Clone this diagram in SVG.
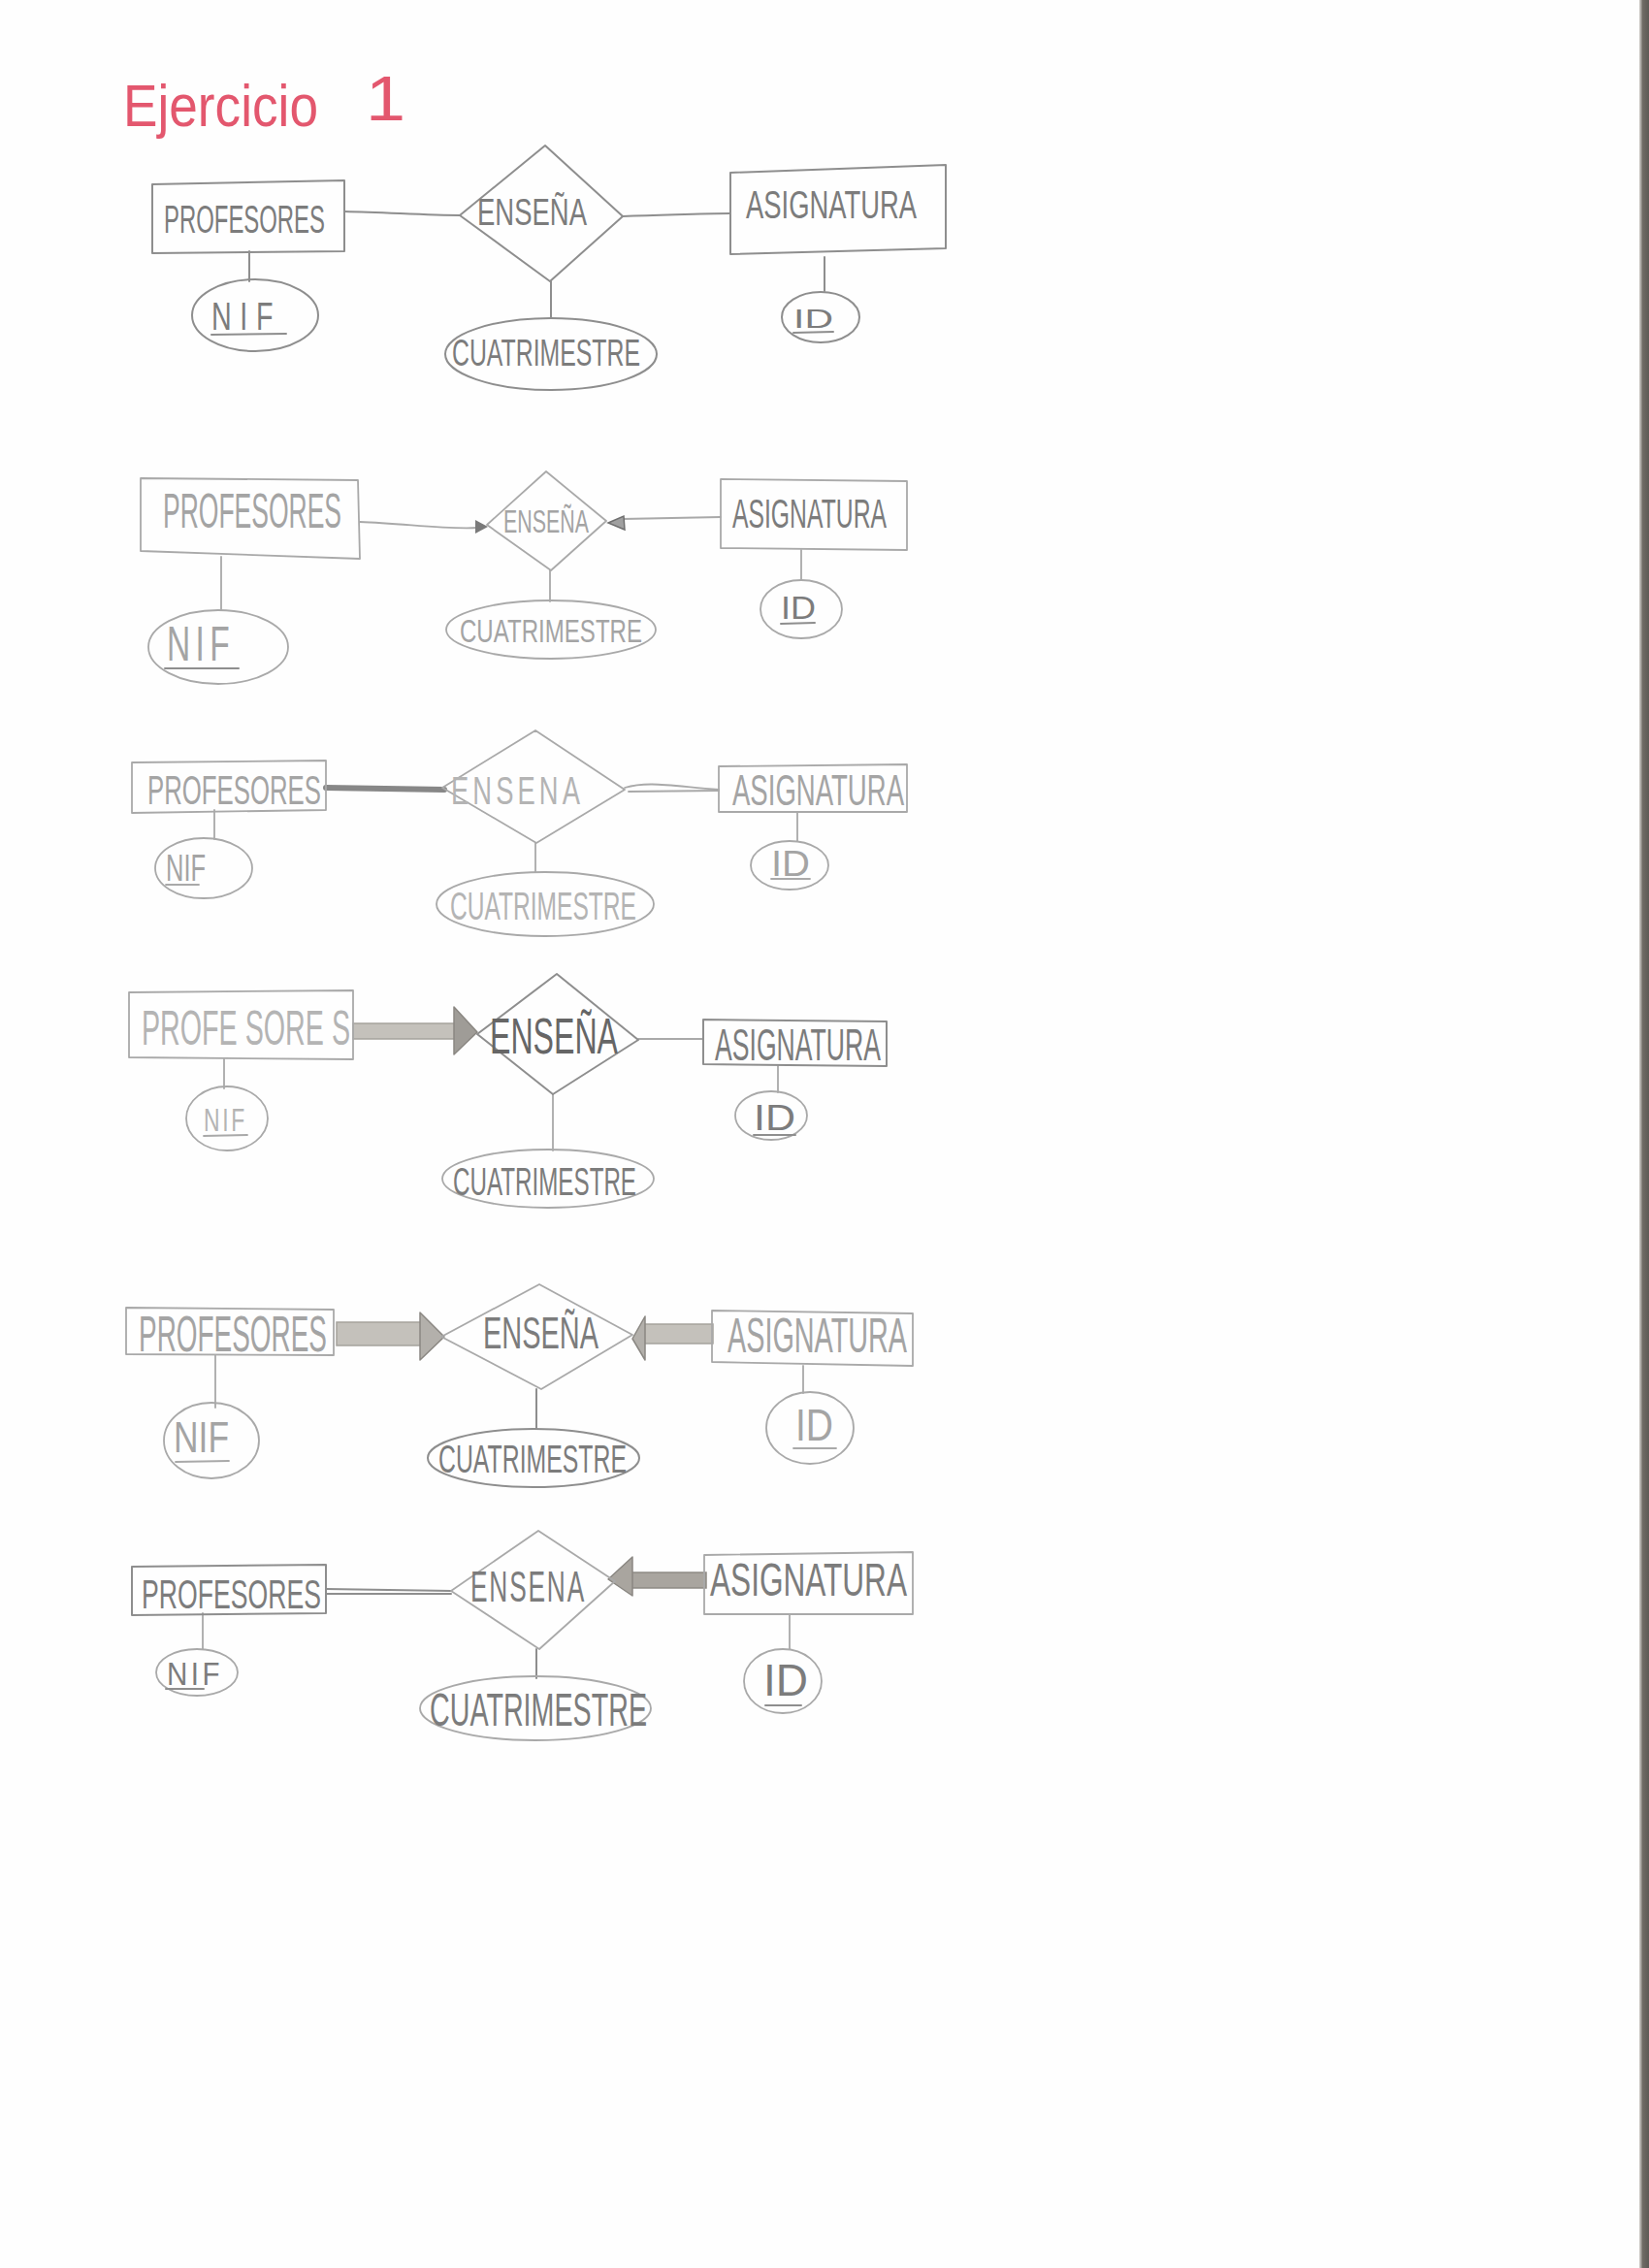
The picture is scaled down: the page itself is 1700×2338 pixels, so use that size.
<svg xmlns="http://www.w3.org/2000/svg" width="1700" height="2338" viewBox="0 0 1700 2338">
  <defs>
    <style>
      .pen{fill:none;stroke:#8e8e8e;stroke-width:2;stroke-linecap:round;stroke-linejoin:round}
      .soft{fill:none;stroke:#a9a9a9;stroke-width:1.8;stroke-linecap:round;stroke-linejoin:round}
      .lbl{font-family:"Liberation Sans",Arial,sans-serif;fill:#7c7c7c}
      .pale{fill:#a4a4a4}
      .faint{fill:#b4b4b4}
      .dark{fill:#666666}
      .title{font-family:"Liberation Sans",Arial,sans-serif;fill:#e3576e}
      .shaft{fill:#c4c1bb;stroke:#a5a29c;stroke-width:1.5}
      .head{fill:#9f9c97;stroke:#8a8782;stroke-width:1.5;stroke-linejoin:round}
    </style>
    <linearGradient id="edge" x1="0" y1="0" x2="1" y2="0">
      <stop offset="0" stop-color="#d8d6d2"/>
      <stop offset="0.35" stop-color="#6f6b65"/>
      <stop offset="1" stop-color="#5d5a55"/>
    </linearGradient>
  </defs>

  <rect width="1700" height="2338" fill="#fefefe"/>
  <rect x="1690" y="0" width="10" height="2338" fill="url(#edge)"/>

  <!-- heading -->
  <g id="heading">
    <text class="title" x="127" y="130" font-size="62" textLength="201" lengthAdjust="spacingAndGlyphs">Ejercicio</text>
    <text class="title" x="377" y="124" font-size="64" textLength="41" lengthAdjust="spacingAndGlyphs">1</text>
  </g>

  <!-- ===== model 1 ===== -->
  <g id="m1-connectors">
    <path class="pen" d="M355,218 C400,219 440,222 474,222"/>
    <path class="pen" d="M642,223 C690,222 720,220 753,220"/>
    <path class="pen" d="M257,259 L257,290"/>
    <path class="pen" d="M568,290 L568,328"/>
    <path class="pen" d="M850,265 L850,300"/>
  </g>
  <g id="m1-profesores">
    <path class="pen" d="M157,190 L355,186 L355,259 L157,261 Z"/>
    <text class="lbl" x="169" y="240" font-size="40" textLength="166" lengthAdjust="spacingAndGlyphs">PROFESORES</text>
  </g>
  <g id="m1-ensena">
    <path class="pen" d="M562,150 L642,223 L567,290 L474,222 Z"/>
    <text class="lbl" x="492" y="232" font-size="38" textLength="113" lengthAdjust="spacingAndGlyphs">ENSEÑA</text>
  </g>
  <g id="m1-asignatura">
    <path class="pen" d="M753,178 L975,170 L975,256 L753,262 Z"/>
    <text class="lbl" x="769" y="225" font-size="40" textLength="176" lengthAdjust="spacingAndGlyphs">ASIGNATURA</text>
  </g>
  <g id="m1-nif">
    <ellipse class="pen" cx="263" cy="325" rx="65" ry="37"/>
    <text class="lbl" x="218" y="340" font-size="40" textLength="72" lengthAdjust="spacingAndGlyphs" letter-spacing="12">NIF</text>
    <path class="pen" d="M218,345 L295,344"/>
  </g>
  <g id="m1-cuatrimestre">
    <ellipse class="pen" cx="568" cy="365" rx="109" ry="37"/>
    <text class="lbl" x="466" y="377" font-size="38" textLength="194" lengthAdjust="spacingAndGlyphs">CUATRIMESTRE</text>
  </g>
  <g id="m1-id">
    <ellipse class="pen" cx="846" cy="327" rx="40" ry="26"/>
    <text class="lbl" x="818" y="338" font-size="28" textLength="41" lengthAdjust="spacingAndGlyphs">ID</text>
    <path class="pen" d="M818,343 L859,342"/>
  </g>

  <!-- ===== model 2 ===== -->
  <g id="m2-connectors">
    <path class="soft" d="M371,538 C420,540 460,546 492,544"/>
    <polygon points="490,536 503,543 490,550" fill="#7a7a7a"/>
    <path class="soft" d="M743,533 L642,535"/>
    <polygon points="627,539 643,532 644,546" fill="#a0a0a0" stroke="#6f6f6f" stroke-width="1.5"/>
    <path class="soft" d="M228,574 L228,628"/>
    <path class="soft" d="M567,588 L567,620"/>
    <path class="soft" d="M826,567 L826,598"/>
  </g>
  <g id="m2-profesores">
    <path class="soft" d="M145,493 L369,495 L371,576 L145,568 Z"/>
    <text class="lbl pale" x="168" y="544" font-size="50" textLength="184" lengthAdjust="spacingAndGlyphs">PROFESORES</text>
  </g>
  <g id="m2-ensena">
    <path class="soft" d="M563,486 L625,537 L568,588 L502,541 Z"/>
    <text class="lbl pale" x="519" y="549" font-size="34" textLength="88" lengthAdjust="spacingAndGlyphs">ENSEÑA</text>
  </g>
  <g id="m2-asignatura">
    <path class="soft" d="M743,494 L935,496 L935,567 L743,565 Z"/>
    <text class="lbl" x="755" y="544" font-size="42" textLength="159" lengthAdjust="spacingAndGlyphs">ASIGNATURA</text>
  </g>
  <g id="m2-nif">
    <ellipse class="soft" cx="225" cy="667" rx="72" ry="38"/>
    <text class="lbl pale" x="172" y="681" font-size="50" textLength="70" lengthAdjust="spacingAndGlyphs" letter-spacing="8">NIF</text>
    <path class="pen" d="M170,689 L246,689"/>
  </g>
  <g id="m2-cuatrimestre">
    <ellipse class="soft" cx="568" cy="649" rx="108" ry="30"/>
    <text class="lbl pale" x="474" y="662" font-size="34" textLength="188" lengthAdjust="spacingAndGlyphs">CUATRIMESTRE</text>
  </g>
  <g id="m2-id">
    <ellipse class="soft" cx="826" cy="628" rx="42" ry="30"/>
    <text class="lbl" x="805" y="638" font-size="34" textLength="36" lengthAdjust="spacingAndGlyphs">ID</text>
    <path class="pen" d="M805,643 L840,642"/>
  </g>

  <!-- ===== model 3 ===== -->
  <g id="m3-connectors">
    <path d="M336,812 L458,814" fill="none" stroke="#878787" stroke-width="6" stroke-linecap="round"/>
    <path class="soft" d="M644,812 C668,805 690,810 741,814"/>
    <path class="soft" d="M648,816 L741,815"/>
    <path class="soft" d="M221,835 L221,865"/>
    <path class="soft" d="M552,869 L552,899"/>
    <path class="soft" d="M822,837 L822,867"/>
  </g>
  <g id="m3-profesores">
    <path class="soft" d="M136,786 L336,784 L336,835 L136,838 Z"/>
    <text class="lbl pale" x="152" y="829" font-size="42" textLength="179" lengthAdjust="spacingAndGlyphs">PROFESORES</text>
  </g>
  <g id="m3-ensena">
    <path class="soft" d="M552,753 L644,814 L553,869 L456,812 Z"/>
    <text class="lbl faint" x="465" y="829" font-size="40" textLength="137" lengthAdjust="spacingAndGlyphs" letter-spacing="6">ENSENA</text>
  </g>
  <g id="m3-asignatura">
    <path class="soft" d="M741,790 L935,788 L935,837 L741,837 Z"/>
    <text class="lbl pale" x="755" y="830" font-size="44" textLength="177" lengthAdjust="spacingAndGlyphs">ASIGNATURA</text>
  </g>
  <g id="m3-nif">
    <ellipse class="soft" cx="210" cy="895" rx="50" ry="31"/>
    <text class="lbl pale" x="171" y="908" font-size="38" textLength="41" lengthAdjust="spacingAndGlyphs">NIF</text>
    <path class="soft" d="M171,912 L205,912"/>
  </g>
  <g id="m3-cuatrimestre">
    <ellipse class="soft" cx="562" cy="932" rx="112" ry="33"/>
    <text class="lbl faint" x="464" y="948" font-size="40" textLength="192" lengthAdjust="spacingAndGlyphs">CUATRIMESTRE</text>
  </g>
  <g id="m3-id">
    <ellipse class="soft" cx="814" cy="892" rx="40" ry="25"/>
    <text class="lbl pale" x="795" y="903" font-size="36" textLength="40" lengthAdjust="spacingAndGlyphs">ID</text>
    <path class="soft" d="M795,906 L835,906"/>
  </g>

  <!-- ===== model 4 ===== -->
  <g id="m4-connectors">
    <rect class="shaft" x="364" y="1055" width="106" height="16"/>
    <polygon class="head" points="468,1038 492,1064 468,1087"/>
    <path class="soft" d="M658,1071 L725,1071"/>
    <path class="soft" d="M231,1092 L231,1122"/>
    <path class="soft" d="M570,1128 L570,1186"/>
    <path class="soft" d="M802,1099 L802,1126"/>
  </g>
  <g id="m4-profesores">
    <path class="soft" d="M133,1023 L364,1021 L364,1092 L133,1090 Z"/>
    <text class="lbl faint" x="146" y="1077" font-size="50" textLength="215" lengthAdjust="spacingAndGlyphs">PROFE SORE S</text>
  </g>
  <g id="m4-ensena">
    <path class="pen" d="M574,1004 L658,1072 L570,1128 L492,1066 Z"/>
    <text class="lbl dark" x="505" y="1086" font-size="52" textLength="132" lengthAdjust="spacingAndGlyphs">ENSEÑA</text>
  </g>
  <g id="m4-asignatura">
    <path class="pen" d="M725,1051 L914,1053 L914,1099 L725,1097 Z"/>
    <text class="lbl" x="737" y="1093" font-size="46" textLength="171" lengthAdjust="spacingAndGlyphs">ASIGNATURA</text>
  </g>
  <g id="m4-nif">
    <ellipse class="soft" cx="234" cy="1153" rx="42" ry="33"/>
    <text class="lbl faint" x="210" y="1166" font-size="34" textLength="45" lengthAdjust="spacingAndGlyphs" letter-spacing="4">NIF</text>
    <path class="soft" d="M210,1171 L255,1170"/>
  </g>
  <g id="m4-cuatrimestre">
    <ellipse class="soft" cx="565" cy="1215" rx="109" ry="30"/>
    <text class="lbl" x="467" y="1232" font-size="40" textLength="189" lengthAdjust="spacingAndGlyphs">CUATRIMESTRE</text>
  </g>
  <g id="m4-id">
    <ellipse class="soft" cx="795" cy="1150" rx="37" ry="25"/>
    <text class="lbl" x="777" y="1165" font-size="36" textLength="43" lengthAdjust="spacingAndGlyphs">ID</text>
    <path class="pen" d="M777,1170 L820,1170"/>
  </g>

  <!-- ===== model 5 ===== -->
  <g id="m5-connectors">
    <rect class="shaft" x="347" y="1363" width="88" height="24"/>
    <polygon class="head" points="433,1353 458,1378 433,1402" style="fill:#b3b0ab"/>
    <rect class="shaft" x="663" y="1365" width="72" height="20"/>
    <polygon class="head" points="652,1380 665,1357 665,1402" style="fill:#b3b0ab"/>
    <path class="soft" d="M222,1397 L222,1451"/>
    <path class="pen" d="M553,1432 L553,1473"/>
    <path class="soft" d="M828,1408 L828,1436"/>
  </g>
  <g id="m5-profesores">
    <path class="soft" d="M130,1348 L344,1350 L344,1397 L130,1396 Z"/>
    <text class="lbl pale" x="143" y="1393" font-size="52" textLength="194" lengthAdjust="spacingAndGlyphs">PROFESORES</text>
  </g>
  <g id="m5-ensena">
    <path class="soft" d="M556,1324 L652,1376 L558,1432 L455,1378 Z"/>
    <text class="lbl" x="498" y="1390" font-size="46" textLength="119" lengthAdjust="spacingAndGlyphs">ENSEÑA</text>
  </g>
  <g id="m5-asignatura">
    <path class="soft" d="M734,1351 L941,1354 L941,1408 L734,1404 Z"/>
    <text class="lbl pale" x="750" y="1394" font-size="50" textLength="185" lengthAdjust="spacingAndGlyphs">ASIGNATURA</text>
  </g>
  <g id="m5-nif">
    <ellipse class="soft" cx="218" cy="1485" rx="49" ry="39"/>
    <text class="lbl pale" x="179" y="1497" font-size="44" textLength="57" lengthAdjust="spacingAndGlyphs">NIF</text>
    <path class="soft" d="M181,1507 L236,1506"/>
  </g>
  <g id="m5-cuatrimestre">
    <ellipse class="pen" cx="550" cy="1503" rx="109" ry="30"/>
    <text class="lbl" x="452" y="1518" font-size="40" textLength="194" lengthAdjust="spacingAndGlyphs">CUATRIMESTRE</text>
  </g>
  <g id="m5-id">
    <ellipse class="soft" cx="835" cy="1472" rx="45" ry="37"/>
    <text class="lbl pale" x="820" y="1485" font-size="46" textLength="39" lengthAdjust="spacingAndGlyphs">ID</text>
    <path class="soft" d="M818,1493 L862,1493"/>
  </g>

  <!-- ===== model 6 ===== -->
  <g id="m6-connectors">
    <path class="pen" d="M336,1638 L465,1640"/>
    <path class="pen" d="M336,1643 L465,1643"/>
    <rect class="shaft" x="650" y="1621" width="78" height="16" style="fill:#a9a59f;stroke:#8e8b85"/>
    <polygon class="head" points="627,1628 652,1605 652,1645" style="fill:#a9a59f"/>
    <path class="soft" d="M209,1663 L209,1700"/>
    <path class="pen" d="M553,1700 L553,1730"/>
    <path class="soft" d="M814,1664 L814,1700"/>
  </g>
  <g id="m6-profesores">
    <path class="pen" d="M136,1615 L336,1613 L336,1663 L136,1665 Z"/>
    <text class="lbl" x="146" y="1658" font-size="42" textLength="185" lengthAdjust="spacingAndGlyphs">PROFESORES</text>
  </g>
  <g id="m6-ensena">
    <path class="soft" d="M555,1578 L634,1630 L556,1700 L465,1640 Z"/>
    <text class="lbl" x="485" y="1651" font-size="44" textLength="119" lengthAdjust="spacingAndGlyphs" letter-spacing="3">ENSENA</text>
  </g>
  <g id="m6-asignatura">
    <path class="soft" d="M726,1603 L941,1600 L941,1664 L726,1664 Z"/>
    <text class="lbl" x="732" y="1645" font-size="48" textLength="203" lengthAdjust="spacingAndGlyphs">ASIGNATURA</text>
  </g>
  <g id="m6-nif">
    <ellipse class="soft" cx="203" cy="1724" rx="42" ry="24"/>
    <text class="lbl" x="172" y="1737" font-size="34" textLength="58" lengthAdjust="spacingAndGlyphs" letter-spacing="4">NIF</text>
    <path class="pen" d="M171,1741 L210,1741"/>
  </g>
  <g id="m6-cuatrimestre">
    <ellipse class="soft" cx="552" cy="1761" rx="119" ry="33"/>
    <text class="lbl" x="443" y="1779" font-size="48" textLength="224" lengthAdjust="spacingAndGlyphs">CUATRIMESTRE</text>
  </g>
  <g id="m6-id">
    <ellipse class="soft" cx="807" cy="1733" rx="40" ry="33"/>
    <text class="lbl" x="787" y="1748" font-size="46" textLength="46" lengthAdjust="spacingAndGlyphs">ID</text>
    <path class="pen" d="M789,1758 L826,1758"/>
  </g>
</svg>
